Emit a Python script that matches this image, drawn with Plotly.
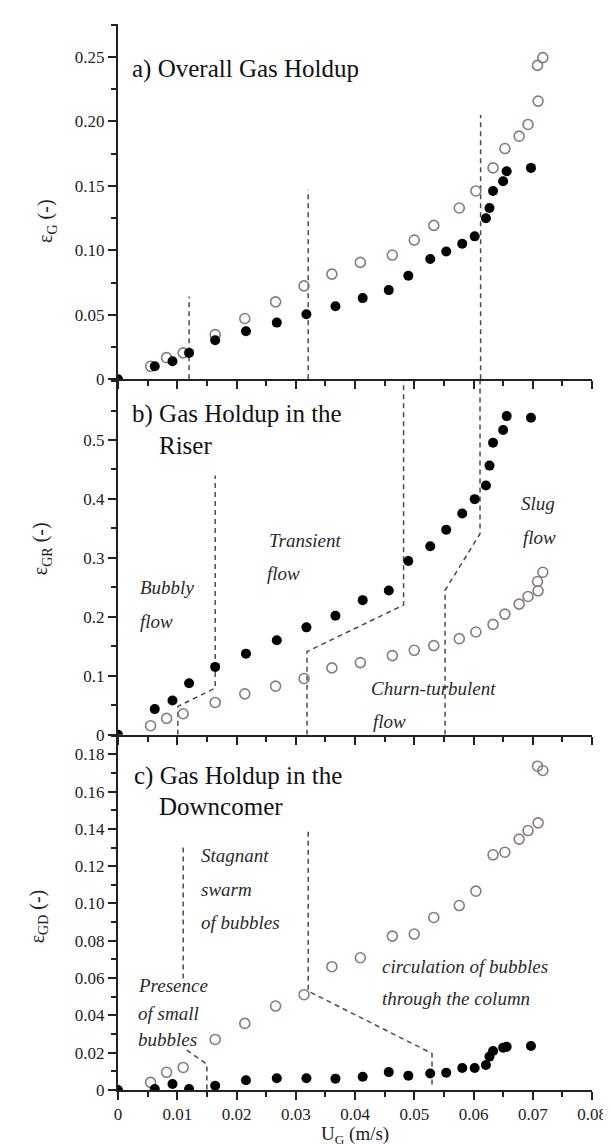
import plotly.graph_objects as go

# ---------------- data ----------------
ug_open = [0.0055, 0.0082, 0.0110, 0.0164, 0.0214, 0.0266, 0.0314, 0.0361, 0.0409, 0.0463, 0.0500,
           0.0533, 0.0576, 0.0604, 0.0633, 0.0653, 0.0677, 0.0692, 0.0709, 0.0708, 0.0717]
ug_fill = [0.0, 0.0062, 0.0092, 0.0120, 0.0164, 0.0216, 0.0268, 0.0318, 0.0367, 0.0413, 0.0457,
           0.0490, 0.0527, 0.0554, 0.0581, 0.0602, 0.0621, 0.0627, 0.0633, 0.0650, 0.0656, 0.0697]

eps_g_open = [0.0101, 0.0168, 0.0205, 0.0347, 0.0472, 0.0601, 0.0725, 0.0816, 0.0907, 0.0964, 0.1080,
              0.1194, 0.1329, 0.1461, 0.1640, 0.1790, 0.1886, 0.1977, 0.2158, 0.2435, 0.2495]
eps_g_fill = [0.0, 0.0101, 0.0140, 0.0205, 0.0303, 0.0373, 0.0440, 0.0505, 0.0567, 0.0630, 0.0692,
              0.0803, 0.0933, 0.0992, 0.1052, 0.1109, 0.1249, 0.1329, 0.1461, 0.1536, 0.1614, 0.1640]

eps_gr_open = [0.0152, 0.0276, 0.0355, 0.0547, 0.0693, 0.0823, 0.0953, 0.1133, 0.1223, 0.1342, 0.1432,
               0.1511, 0.1629, 0.1742, 0.1871, 0.2046, 0.2215, 0.2345, 0.2441, 0.2599, 0.2756]
eps_gr_fill = [0.0, 0.0434, 0.0581, 0.0874, 0.1150, 0.1375, 0.1601, 0.1821, 0.2018, 0.2283, 0.2446,
               0.2948, 0.3196, 0.3478, 0.3754, 0.3997, 0.4228, 0.4566, 0.4955, 0.5169, 0.5406, 0.5378]

eps_gd_open = [0.0041, 0.0095, 0.0121, 0.0271, 0.0357, 0.0450, 0.0511, 0.0661, 0.0709, 0.0825, 0.0836,
               0.0925, 0.0989, 0.1066, 0.1261, 0.1275, 0.1345, 0.1391, 0.1432, 0.1736, 0.1713]
eps_gd_fill = [0.0, 0.0005, 0.0032, 0.0005, 0.0023, 0.0052, 0.0063, 0.0063, 0.0061, 0.0071, 0.0096,
               0.0077, 0.0088, 0.0093, 0.0118, 0.0118, 0.0134, 0.0179, 0.0209, 0.0227, 0.0232, 0.0236]

# regime boundary lines (dashed)
bound_a = [([0.0120, 0.0120], [0.0, 0.064]),
           ([0.0321, 0.0321], [0.0, 0.147]),
           ([0.0612, 0.0612], [0.0, 0.205])]
bound_b = [([0.0101, 0.0101, 0.0164, 0.0164], [0.0, 0.048, 0.079, 0.44]),
           ([0.0319, 0.0319, 0.0482, 0.0482], [0.0, 0.141, 0.220, 0.60]),
           ([0.0552, 0.0552, 0.0611, 0.0611], [0.0, 0.245, 0.341, 0.60])]
bound_c = [([0.0110, 0.0110], [0.0598, 0.1321]),
           ([0.0116, 0.0150, 0.0150], [0.0214, 0.0138, 0.0]),
           ([0.0321, 0.0321, 0.0530, 0.0530], [0.1384, 0.053, 0.0196, 0.0027])]

x_ticks = [0, 0.01, 0.02, 0.03, 0.04, 0.05, 0.06, 0.07, 0.08]
x_labels = ["0", "0.01", "0.02", "0.03", "0.04", "0.05", "0.06", "0.07", "0.08"]
ya_ticks = [0, 0.05, 0.10, 0.15, 0.20, 0.25]
ya_labels = ["0", "0.05", "0.10", "0.15", "0.20", "0.25"]
yb_ticks = [0, 0.1, 0.2, 0.3, 0.4, 0.5]
yb_labels = ["0", "0.1", "0.2", "0.3", "0.4", "0.5"]
yc_ticks = [0, 0.02, 0.04, 0.06, 0.08, 0.10, 0.12, 0.14, 0.16, 0.18]
yc_labels = ["0", "0.02", "0.04", "0.06", "0.08", "0.10", "0.12", "0.14", "0.16", "0.18"]

# ---------------- styling ----------------
FONT = "Liberation Serif, Times New Roman, Times, DejaVu Serif, serif"
AX = "#222222"
OPEN_C = "#8a7b79"
DASH_C = "#4a4a4a"

fig = go.Figure()

panels = [
    ("x3", "y3", eps_g_open, eps_g_fill, bound_a),
    ("x2", "y2", eps_gr_open, eps_gr_fill, bound_b),
    ("x", "y", eps_gd_open, eps_gd_fill, bound_c),
]
for xa, ya, yo, yf, bounds in panels:
    for bx, by in bounds:
        fig.add_trace(go.Scatter(x=bx, y=by, mode="lines", xaxis=xa, yaxis=ya,
                                 line=dict(color=DASH_C, width=1.5, dash="5px,4px"),
                                 showlegend=False, hoverinfo="skip"))
    fig.add_trace(go.Scatter(x=ug_open, y=yo, mode="markers", xaxis=xa, yaxis=ya,
                             marker=dict(symbol="circle-open", size=10, color=OPEN_C,
                                         line=dict(width=1.6, color=OPEN_C)),
                             showlegend=False))
    fig.add_trace(go.Scatter(x=ug_fill, y=yf, mode="markers", xaxis=xa, yaxis=ya,
                             marker=dict(symbol="circle", size=10, color="black"),
                             showlegend=False))

tickfont = dict(family=FONT, size=17, color=AX)


def xaxis(anchor, labels):
    return dict(range=[0, 0.08], anchor=anchor, tickvals=x_ticks, ticktext=x_labels,
                showticklabels=labels, ticks="outside", ticklen=8, tickwidth=1.5, tickcolor=AX,
                minor=dict(tick0=0, dtick=0.005, ticks="outside", ticklen=5, tickwidth=1.5,
                           tickcolor=AX, showgrid=False),
                showline=True, linewidth=2, linecolor=AX, showgrid=False, zeroline=False,
                tickfont=tickfont, fixedrange=True)


def yaxis(anchor, domain, rng, tv, tt, mdt):
    return dict(range=rng, domain=domain, anchor=anchor, tickvals=tv, ticktext=tt,
                ticks="outside", ticklen=8, tickwidth=1.5, tickcolor=AX,
                minor=dict(tick0=0, dtick=mdt, ticks="outside", ticklen=5, tickwidth=1.5,
                           tickcolor=AX, showgrid=False),
                showline=True, linewidth=2, linecolor=AX, showgrid=False, zeroline=False,
                tickfont=tickfont, fixedrange=True)


def x_top(over, anchor):
    return dict(range=[0, 0.08], overlaying=over, anchor=anchor, side="top",
                tickvals=x_ticks, showticklabels=False, ticks="inside", ticklen=6,
                tickwidth=1.5, tickcolor=AX,
                minor=dict(tick0=0, dtick=0.005, ticks="inside", ticklen=4, tickwidth=1.5,
                           tickcolor=AX, showgrid=False),
                showline=True, linewidth=2, linecolor=AX, showgrid=False, zeroline=False,
                fixedrange=True)


def y_right(over, anchor, rng, tv, mdt):
    return dict(range=rng, overlaying=over, anchor=anchor, side="right",
                tickvals=tv, showticklabels=False, ticks="inside", ticklen=7,
                tickwidth=1.5, tickcolor=AX,
                minor=dict(tick0=0, dtick=mdt, ticks="inside", ticklen=4, tickwidth=1.5,
                           tickcolor=AX, showgrid=False),
                showline=True, linewidth=2, linecolor=AX, showgrid=False, zeroline=False,
                fixedrange=True)


ra, rb, rc = [0, 0.2756], [0, 0.603], [0, 0.1905]
da, db, dc = [2 / 3, 1.0], [1 / 3, 2 / 3], [0.0, 1 / 3]

fig.update_layout(
    width=611, height=1145,
    margin=dict(l=110, r=16, t=16, b=63),
    paper_bgcolor="white", plot_bgcolor="white",
    font=dict(family=FONT, color=AX),
    xaxis=xaxis("y", True),
    xaxis2=xaxis("y2", False),
    xaxis3=xaxis("y3", False),
    yaxis=yaxis("x", dc, rc, yc_ticks, yc_labels, 0.01),
    yaxis2=yaxis("x2", db, rb, yb_ticks, yb_labels, 0.05),
    yaxis3=yaxis("x3", da, ra, ya_ticks, ya_labels, 0.025),
    xaxis4=x_top("x", "y"),
    xaxis5=x_top("x2", "y2"),
    xaxis6=x_top("x3", "y3"),
    yaxis4=y_right("y", "x", rc, yc_ticks, 0.01),
    yaxis5=y_right("y2", "x2", rb, yb_ticks, 0.05),
    yaxis6=y_right("y3", "x3", ra, ya_ticks, 0.025),
)

ann = []
title_font = dict(family=FONT, size=25, color="#111111")
ital = dict(family=FONT, size=19, color="#2a2a2a")


def txt(xr, yr, x, y, s, font):
    ann.append(dict(xref=xr, yref=yr, x=x, y=y, text=s, showarrow=False,
                    xanchor="left", yanchor="middle", font=font))


# panel titles
txt("x3", "y3", 0.0020, 0.2407, "a) Overall Gas Holdup", title_font)
txt("x2", "y2", 0.0021, 0.544, "b) Gas Holdup in the", title_font)
txt("x2", "y2", 0.0065, 0.4915, "Riser", title_font)
txt("x", "y", 0.0023, 0.1684, "c) Gas Holdup in the", title_font)
txt("x", "y", 0.0066, 0.1518, "Downcomer", title_font)

# regime labels, panel b
txt("x2", "y2", 0.0033, 0.2497, "<i>Bubbly</i>", ital)
txt("x2", "y2", 0.0034, 0.1916, "<i>flow</i>", ital)
txt("x2", "y2", 0.0252, 0.3298, "<i>Transient</i>", ital)
txt("x2", "y2", 0.0248, 0.2734, "<i>flow</i>", ital)
txt("x2", "y2", 0.0677, 0.3918, "<i>Slug</i>", ital)
txt("x2", "y2", 0.0681, 0.3348, "<i>flow</i>", ital)
txt("x2", "y2", 0.0424, 0.0789, "<i>Churn-turbulent</i>", ital)
txt("x2", "y2", 0.0427, 0.0225, "<i>flow</i>", ital)

# regime labels, panel c
txt("x", "y", 0.0137, 0.1255, "<i>Stagnant</i>", ital)
txt("x", "y", 0.0137, 0.1077, "<i>swarm</i>", ital)
txt("x", "y", 0.0137, 0.0898, "<i>of bubbles</i>", ital)
txt("x", "y", 0.0030, 0.0559, "<i>Presence</i>", ital)
txt("x", "y", 0.0030, 0.0411, "<i>of small</i>", ital)
txt("x", "y", 0.0030, 0.0273, "<i>bubbles</i>", ital)
txt("x", "y", 0.0442, 0.0661, "<i>circulation of bubbles</i>", ital)
txt("x", "y", 0.0442, 0.0491, "<i>through the column</i>", ital)

# axis titles
axt = dict(family=FONT, size=20, color=AX)
pw = 611 - 110 - 16
for px, yr, yv, s in [(37, "y3", 0.1226, "ε<sub>G</sub> (-)"),
                      (32, "y2", 0.316, "ε<sub>GR</sub> (-)"),
                      (29, "y", 0.093, "ε<sub>GD</sub> (-)")]:
    ann.append(dict(xref="paper", yref=yr, x=(px - 110) / pw, y=yv, text=s, showarrow=False,
                    textangle=-90, xanchor="center", yanchor="middle", font=axt))
ann.append(dict(xref="paper", yref="paper", x=0.5, y=-45 / 1066, text="U<sub>G</sub> (m/s)",
                showarrow=False, xanchor="center", yanchor="middle",
                font=dict(family=FONT, size=19, color=AX)))

fig.update_layout(annotations=ann)
fig.write_html("out.html")
